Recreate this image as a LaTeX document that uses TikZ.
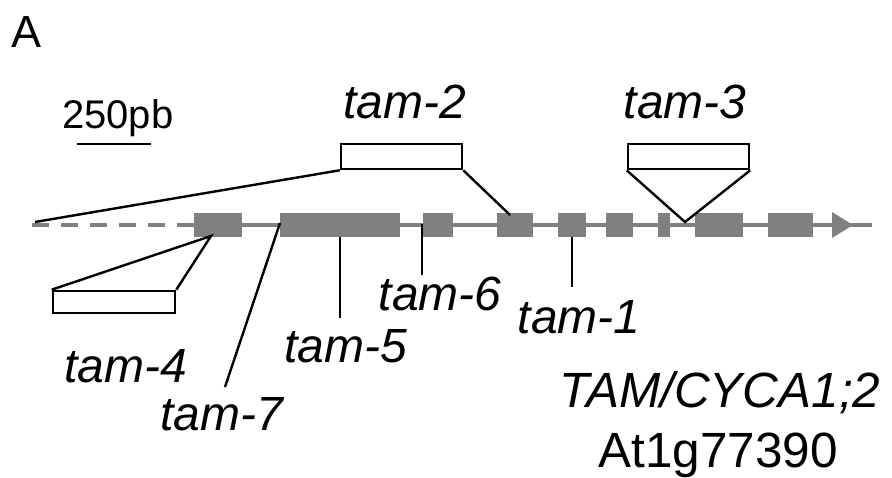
\documentclass[tikz,border=0pt]{standalone}
\usepackage{fontspec}
\setmainfont{Liberation Sans}
\definecolor{genegray}{RGB}{128,128,128}
\begin{document}
\begin{tikzpicture}[x=1pt,y=-1pt,
  exon/.style={draw=none,fill=genegray,minimum height=24pt,inner sep=0pt,anchor=center},
  allele/.style={draw=black,line width=2.6pt,fill=white,inner sep=0pt,anchor=center},
  conn/.style={black,line width=2.4pt},
  backbone/.style={genegray,line width=3.6pt},
  lab/.style={inner sep=0pt,anchor=base,font=\fontsize{48}{48}\selectfont\itshape},
  gene/.style={inner sep=0pt,anchor=base,font=\fontsize{49.5}{50}\selectfont}]
\useasboundingbox (0,0) rectangle (892,477);
% backbone
\coordinate (start) at (32,225);
\coordinate (lineend) at (872,225);
\draw[backbone,dash pattern=on 17pt off 12pt] (start) -- (194,225);
\draw[backbone] (194,225) -- (lineend);
\fill[genegray] (832,212) -- (853,225) -- (832,238) -- cycle;
% exons
\node[exon,minimum width=48pt] (e1) at (218,225) {};
\node[exon,minimum width=120pt] (e2) at (340,225) {};
\node[exon,minimum width=30pt] (e3) at (438,225) {};
\node[exon,minimum width=36pt] (e4) at (515,225) {};
\node[exon,minimum width=28pt] (e5) at (572,225) {};
\node[exon,minimum width=27pt] (e6) at (619.5,225) {};
\node[exon,minimum width=12pt] (e7) at (664,225) {};
\node[exon,minimum width=48pt] (e8) at (719,225) {};
\node[exon,minimum width=45pt] (e9) at (790.5,225) {};
% allele boxes
\node[allele,minimum width=121pt,minimum height=25pt] (b2) at (401.5,156.5) {};
\node[allele,minimum width=121pt,minimum height=25pt] (b3) at (688.5,156.5) {};
\node[allele,minimum width=122pt,minimum height=22pt] (b4) at (114,302) {};
% connector end points
\coordinate (s2l) at (35,222);
\coordinate (s2r) at (510,215);
\coordinate (s3) at (685,222);
\coordinate (s4) at (211,236);
\coordinate (t7a) at (280,223);
\coordinate (t7b) at (225,387);
\coordinate (t5b) at (340,318);
\coordinate (t6a) at (422,224);
\coordinate (t6b) at (422,275);
\coordinate (t1b) at (572,287);
% connectors
\draw[conn] (s2l) -- (b2.south west);
\draw[conn] (b2.south east) -- (s2r);
\draw[conn,line join=miter] (b3.south west) -- (s3) -- (b3.south east);
\draw[conn,line join=miter] (b4.north west) -- (s4) -- (b4.north east);
\draw[conn] (t7a) -- (t7b);
\draw[conn] (e2.south) -- (t5b);
\draw[conn] (t6a) -- (t6b);
\draw[conn] (e5.south) -- (t1b);
% scale bar
\node[inner sep=0pt,anchor=base west,font=\fontsize{40}{40}\selectfont] (scale) at (62,128) {250pb};
\coordinate (sb1) at (77,144);
\coordinate (sb2) at (151,144);
\draw[black,line width=2.6pt] (sb1) -- (sb2);
% labels
\node[inner sep=0pt,anchor=base west,font=\fontsize{45}{45}\selectfont] (panel) at (11,47) {A};
\node[lab] (l2) at (405,118) {tam-2};
\node[lab] (l3) at (685,118) {tam-3};
\node[lab] (l4) at (126,382) {tam-4};
\node[lab] (l7) at (222,430) {tam-7};
\node[lab] (l5) at (346,362) {tam-5};
\node[lab] (l6) at (440,310) {tam-6};
\node[lab] (l1) at (579,333) {tam-1};
\node[gene,font=\fontsize{49.5}{50}\selectfont\itshape] (gn) at (720,407) {TAM/CYCA1;2};
\node[gene] (gid) at (718,467) {At1g77390};
\end{tikzpicture}
\end{document}
